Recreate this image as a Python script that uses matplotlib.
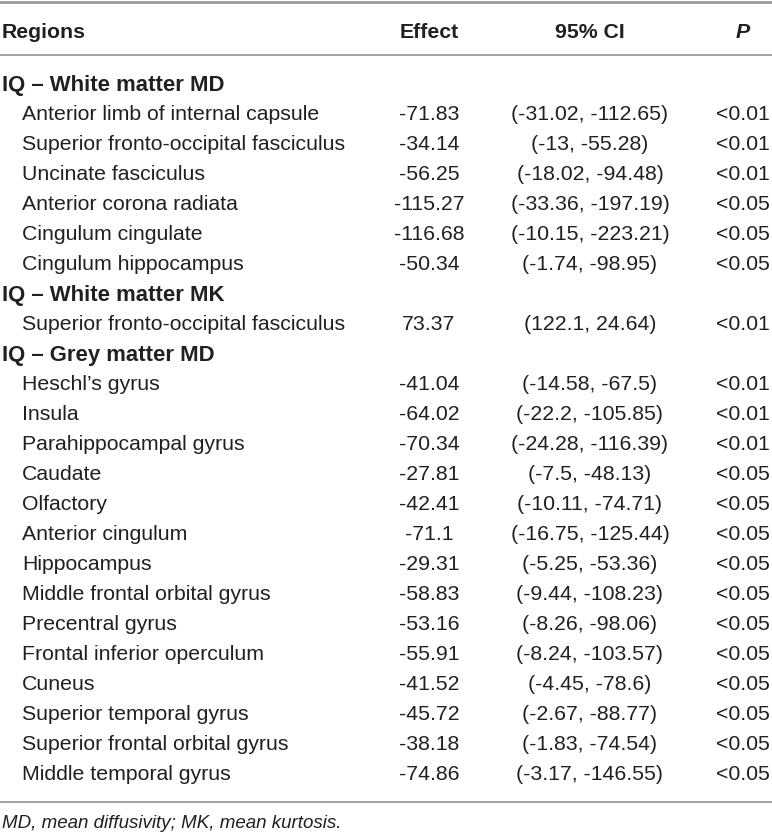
import matplotlib.pyplot as plt

# === table data ===
columns = ["Regions", "Effect", "95% CI", "P"]

sections = ["IQ – White matter MD", "IQ – White matter MK", "IQ – Grey matter MD"]
section_sizes = [6, 1, 14]

regions = [
    "Anterior limb of internal capsule",
    "Superior fronto-occipital fasciculus",
    "Uncinate fasciculus",
    "Anterior corona radiata",
    "Cingulum cingulate",
    "Cingulum hippocampus",
    "Superior fronto-occipital fasciculus",
    "Heschl’s gyrus",
    "Insula",
    "Parahippocampal gyrus",
    "Caudate",
    "Olfactory",
    "Anterior cingulum",
    "Hippocampus",
    "Middle frontal orbital gyrus",
    "Precentral gyrus",
    "Frontal inferior operculum",
    "Cuneus",
    "Superior temporal gyrus",
    "Superior frontal orbital gyrus",
    "Middle temporal gyrus",
]
effects = ["-71.83", "-34.14", "-56.25", "-115.27", "-116.68", "-50.34",
           "73.37",
           "-41.04", "-64.02", "-70.34", "-27.81", "-42.41", "-71.1", "-29.31",
           "-58.83", "-53.16", "-55.91", "-41.52", "-45.72", "-38.18", "-74.86"]
ci_low = ["-31.02", "-13", "-18.02", "-33.36", "-10.15", "-1.74",
          "122.1",
          "-14.58", "-22.2", "-24.28", "-7.5", "-10.11", "-16.75", "-5.25",
          "-9.44", "-8.26", "-8.24", "-4.45", "-2.67", "-1.83", "-3.17"]
ci_high = ["-112.65", "-55.28", "-94.48", "-197.19", "-223.21", "-98.95",
           "24.64",
           "-67.5", "-105.85", "-116.39", "-48.13", "-74.71", "-125.44", "-53.36",
           "-108.23", "-98.06", "-103.57", "-78.6", "-88.77", "-74.54", "-146.55"]
p_values = ["<0.01", "<0.01", "<0.01", "<0.05", "<0.05", "<0.05",
            "<0.01",
            "<0.01", "<0.01", "<0.01", "<0.05", "<0.05", "<0.05", "<0.05",
            "<0.05", "<0.05", "<0.05", "<0.05", "<0.05", "<0.05", "<0.05"]

footnote = "MD, mean diffusivity; MK, mean kurtosis."

# === layout (pixel coords) ===
W, H = 772, 835
x_region, x_indent = 2, 22
x_effect, x_ci, x_p = 429, 590, 743
y_header = 30
y_first = 83
row_h = 30
txt_color = "#231f20"
line_color = "#9a9a9a"
fs = 15.3

plt.rcParams['font.family'] = ['Liberation Sans', 'DejaVu Sans']

fig = plt.figure(figsize=(W / 100, H / 100), dpi=100)
ax = fig.add_axes([0, 0, 1, 1])
ax.set_xlim(0, W)
ax.set_ylim(H, 0)
ax.axis("off")

def put(x, y, s, ha="left", size=fs, **kw):
    ax.text(x, y, s, ha=ha, va="center_baseline", color=txt_color, fontsize=size, **kw)

# header
put(x_region, y_header, columns[0], weight="bold")
put(x_effect, y_header, columns[1], ha="center", weight="bold")
put(x_ci, y_header, columns[2], ha="center", weight="bold")
put(x_p, y_header, columns[3], ha="center", weight="bold", style="italic")

# body
y = y_first
i = 0
for name, n in zip(sections, section_sizes):
    put(x_region, y, name, size=fs + 0.6, weight="bold")
    y += row_h
    for _ in range(n):
        put(x_indent, y, regions[i])
        put(x_effect, y, effects[i], ha="center")
        put(x_ci, y, f"({ci_low[i]}, {ci_high[i]})", ha="center")
        put(x_p, y, p_values[i], ha="center")
        y += row_h
        i += 1

# rules
ax.axhline(1.5, color=line_color, lw=2.0)
ax.axhline(55, color=line_color, lw=1.3)
ax.axhline(802, color=line_color, lw=1.3)

put(x_region, 822, footnote, size=13.5, style="italic")

plt.savefig("out.png", dpi=100)
plt.close()
